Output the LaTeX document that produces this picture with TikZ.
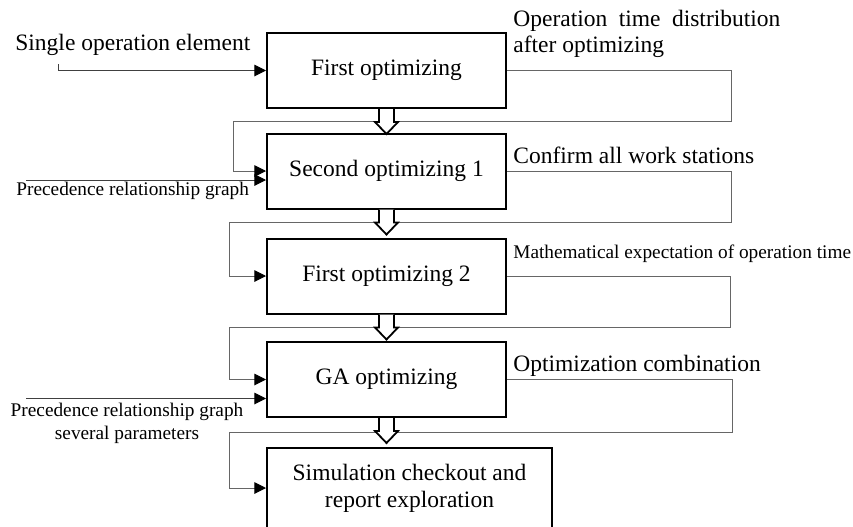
\documentclass[tikz,border=0pt]{standalone}
\usepackage{fontspec}
\setmainfont{Liberation Serif}
\usetikzlibrary{arrows.meta}

\begin{document}
\begin{tikzpicture}[x=0.5pt,y=-0.5pt,
  bigtext/.style={font=\fontsize{11.75}{13.35}\selectfont},
  smalltext/.style={font=\fontsize{9.65}{11.25}\selectfont},
  stage/.style={draw, line width=1pt, minimum width=119.5pt, minimum height=37.5pt,
    inner sep=0pt, align=center, bigtext},
  note/.style={inner sep=0pt, anchor=base west, align=left},
  backline/.style={draw=black!60, line width=0.5pt,
    -{Triangle[length=5.8pt,width=5.8pt,color=black]}},
  inline/.style={draw=black!75, line width=0.5pt,
    -{Triangle[length=5.8pt,width=5.8pt,color=black]}},
  hollow down/.pic={
    \draw[line width=0.9pt, fill=white] (-7.5,0) -- (-7.5,13) -- (-11.5,13)
      -- (0,25) -- (11.5,13) -- (7.5,13) -- (7.5,0);
  }]
\useasboundingbox (0,0) rectangle (853,526);

\node[stage] (b1) at (386.5,70.5) {First optimizing};
\node[stage] (b2) at (386.5,171) {Second optimizing 1};
\node[stage] (b3) at (386.5,276) {First optimizing 2};
\node[stage] (b4) at (386.5,379.5) {GA optimizing};
\node[stage, minimum width=142.5pt, minimum height=40pt] (b5) at (409.5,488)
  {Simulation checkout and\\report exploration};

\node[note, bigtext] (soe) at (15,50.5) {Single operation element};
\node[note, smalltext] (prg) at (16,195.5) {Precedence relationship graph};
% base of a two-line node sits on its last line
\node[inner sep=0pt, anchor=base, align=center, smalltext] (prgp) at (127,439)
  {Precedence relationship graph\\several parameters};

\node[note, bigtext] (otd) at (513,52.7)
  {\makebox[133.5pt][s]{Operation time distribution}\\after optimizing};
\node[note, bigtext] (caws) at (513,163) {Confirm all work stations};
\node[note, smalltext] (meot) at (513,258) {Mathematical expectation of operation time};
\node[note, bigtext] (oc) at (513,371.5) {Optimization combination};

\coordinate (in1) at (58,64);
\coordinate (in2) at (26,180);
\coordinate (in4) at (26,398.5);
\draw[inline] (in1) |- (b1.west);
\draw[inline] (in2) -- (in2 -| b2.west);
\draw[inline] (in4) -- (in4 -| b4.west);

\draw[backline] (b1.east) -| (731,121) -- (233,121) |- (b2.west);
\draw[backline] (b2.east) -| (731,222.5) -- (229,222.5) |- (b3.west);
\draw[backline] (b3.east) -| (730,327.5) -- (229,327.5) |- (b4.west);
\draw[backline] (b4.east) -| (732,432) -- (229,432) |- (b5.west);

\pic at (b1.south) {hollow down};
\pic at (b2.south) {hollow down};
\pic at (b3.south) {hollow down};
\pic at (b4.south) {hollow down};
\end{tikzpicture}
\end{document}
